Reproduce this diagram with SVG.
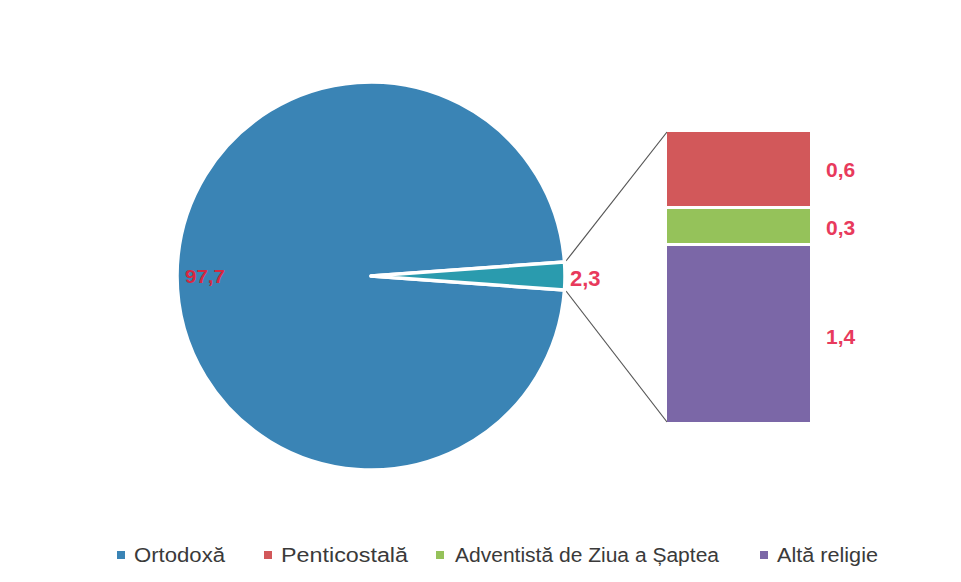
<svg xmlns="http://www.w3.org/2000/svg" width="961" height="582" viewBox="0 0 961 582">
  <style>
    .val { font-family: "Liberation Sans", Arial, sans-serif; font-weight: bold; fill: #E83A5C; }
    .leg { font-family: "Liberation Sans", Arial, sans-serif; font-size: 20px; fill: #3A3A3A; }
    .conn { stroke: #555555; stroke-width: 1.2; fill: none; }
    .seg { stroke: #FFFFFF; stroke-width: 3.5; stroke-linejoin: round; }
  </style>
  <rect width="961" height="582" fill="#FFFFFF"/>

  <g id="connectors">
    <line class="conn" x1="566" y1="261" x2="667" y2="132"/>
    <line class="conn" x1="566" y1="291" x2="667" y2="422"/>
  </g>

  <g id="pie-ortodoxa">
    <path class="seg" fill="#3A84B5" d="M371,276 L564.5,290 A194,194 0 1,1 564.5,262 Z"/>
    <text class="val" x="185" y="283" font-size="18" fill="#D62840" textLength="40" lengthAdjust="spacingAndGlyphs" style="fill:#D62840">97,7</text>
  </g>

  <g id="pie-other">
    <path class="seg" fill="#2A9BAE" d="M371,276 L564.5,262 A194,194 0 0,1 564.5,290 Z"/>
    <text class="val" x="570" y="286" font-size="22">2,3</text>
  </g>

  <g id="bar-penticostala">
    <rect x="667" y="132" width="143" height="74" fill="#D2585A"/>
    <text class="val" x="826" y="177" font-size="21">0,6</text>
  </g>

  <g id="bar-adventista">
    <rect x="667" y="209" width="143" height="34" fill="#95C25A"/>
    <text class="val" x="826" y="235" font-size="21">0,3</text>
  </g>

  <g id="bar-alta">
    <rect x="667" y="246" width="143" height="176" fill="#7B67A7"/>
    <text class="val" x="826" y="344" font-size="21">1,4</text>
  </g>

  <g id="legend">
    <rect x="117" y="551" width="8" height="8" fill="#3A84B5"/>
    <text class="leg" x="134" y="562" textLength="91" lengthAdjust="spacingAndGlyphs">Ortodoxă</text>
    <rect x="264" y="551" width="8" height="8" fill="#D2585A"/>
    <text class="leg" x="281" y="562" textLength="127" lengthAdjust="spacingAndGlyphs">Penticostală</text>
    <rect x="436" y="551" width="8" height="8" fill="#95C25A"/>
    <text class="leg" x="455" y="562" textLength="264" lengthAdjust="spacingAndGlyphs">Adventistă de Ziua a Șaptea</text>
    <rect x="760" y="551" width="8" height="8" fill="#7B67A7"/>
    <text class="leg" x="777" y="562" textLength="101" lengthAdjust="spacingAndGlyphs">Altă religie</text>
  </g>
</svg>
